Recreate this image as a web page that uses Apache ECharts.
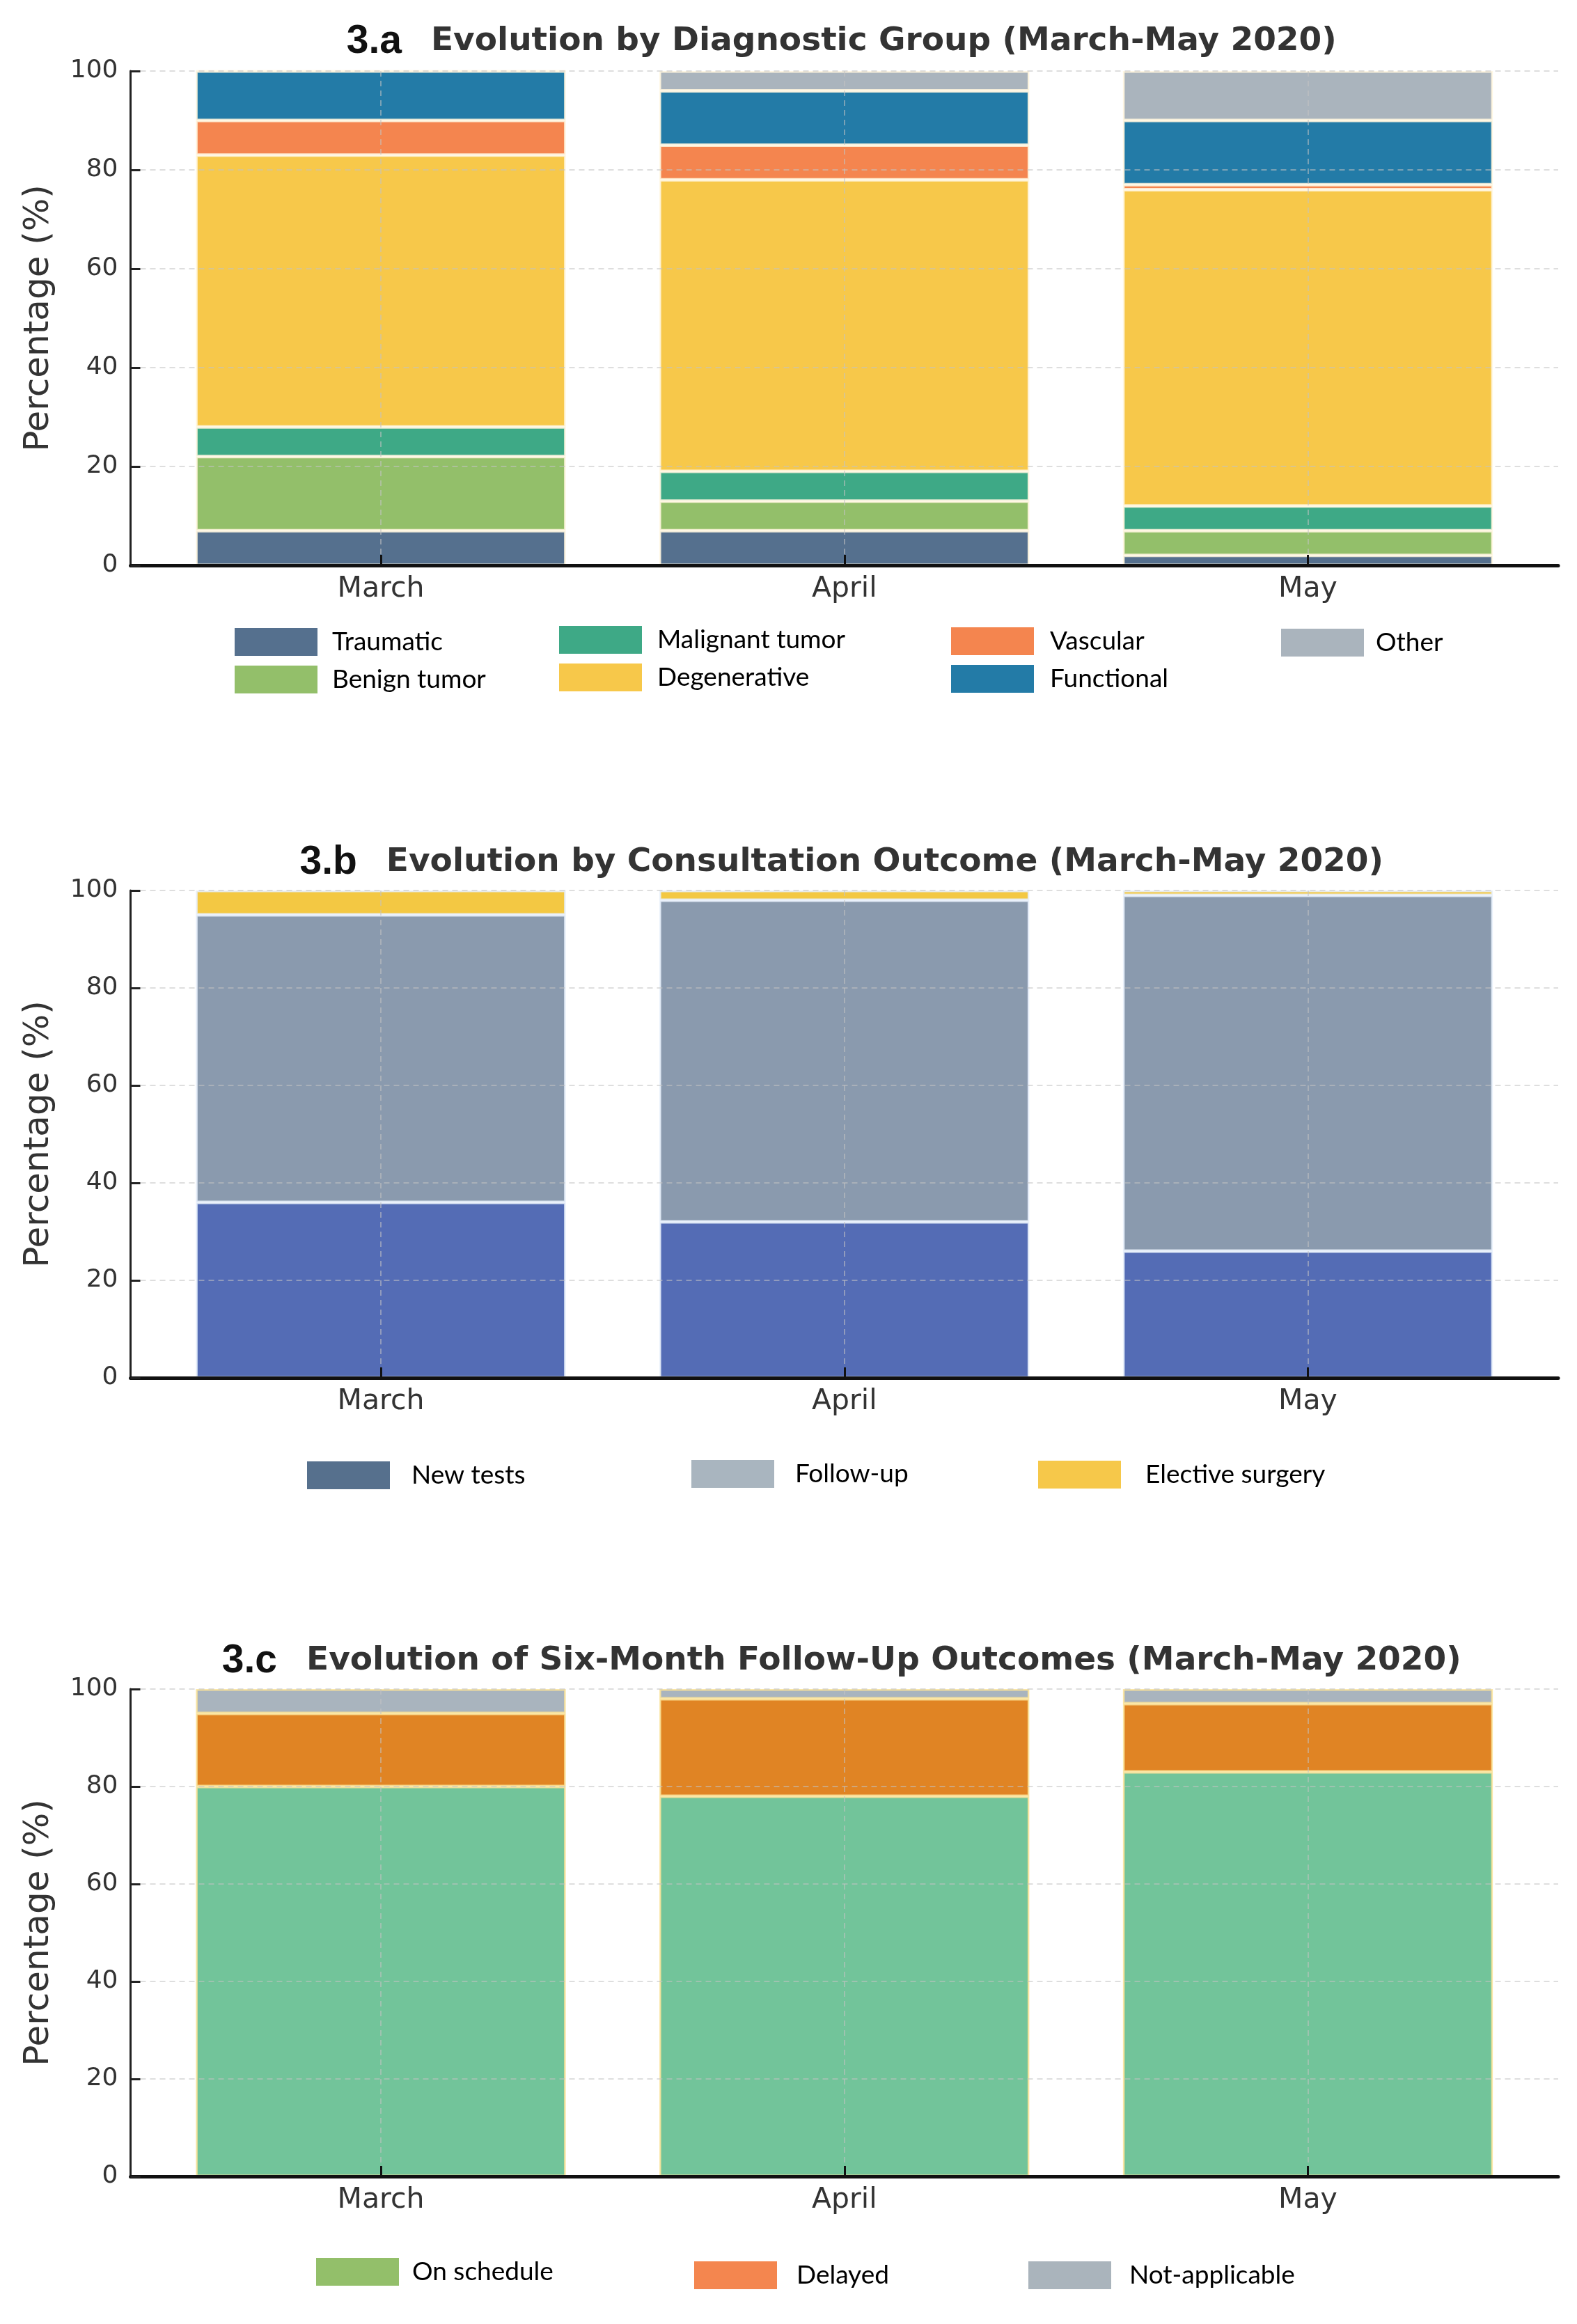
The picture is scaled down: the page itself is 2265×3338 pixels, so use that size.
<!DOCTYPE html>
<html>
<head>
<meta charset="utf-8">
<script src="https://cdn.jsdelivr.net/npm/echarts@6/dist/echarts.min.js"></script>
<style>
html,body{margin:0;padding:0;background:#ffffff;}
#chart{width:2265px;height:3338px;}
</style>
</head>
<body>
<div id="chart"></div>
<script>
// ---------------- data ----------------
const months = ['March', 'April', 'May'];

// 3.a diagnostic group (%)
const diagnosticGroups = ['Traumatic', 'Benign tumor', 'Malignant tumor', 'Degenerative', 'Vascular', 'Functional', 'Other'];
const traumatic      = [7, 7, 2];
const benignTumor    = [15, 6, 5];
const malignantTumor = [6, 6, 5];
const degenerative   = [55, 59, 64];
const vascular       = [7, 7, 1];
const functional     = [10, 11, 13];
const other          = [0, 4, 10];

// 3.b consultation outcome (%)
const outcomeGroups   = ['New tests', 'Follow-up', 'Elective surgery'];
const newTests        = [36, 32, 26];
const followUp        = [59, 66, 73];
const electiveSurgery = [5, 2, 1];

// 3.c six-month follow-up outcome (%)
const followGroups  = ['On schedule', 'Delayed', 'Not-applicable'];
const onSchedule    = [80, 78, 83];
const delayed       = [15, 20, 14];
const notApplicable = [5, 2, 3];

const panelLabels = ['3.a', '3.b', '3.c'];
const panelTitles = [
  'Evolution by Diagnostic Group (March-May 2020)',
  'Evolution by Consultation Outcome (March-May 2020)',
  'Evolution of Six-Month Follow-Up Outcomes (March-May 2020)'
];
const yAxisName = 'Percentage (%)';

// ---------------- styling / layout ----------------
const catIdx = months.map((m, i) => i);
const BAND = 665.75;               // pixel width of one month slot
const MARGIN = 0.54;               // axis padding, in slots, beyond the centre of the end bars
const FRAME_LEFT = 187.5;
const FRAME_W = BAND * (months.length - 1 + 2 * MARGIN);
const BAR_LEFT = FRAME_LEFT + (MARGIN - 0.5) * BAND;
const BAR_W = BAND * months.length;
const panelBox = [
  { top: 102,  height: 710 },
  { top: 1279, height: 700 },
  { top: 2426, height: 700 }
];
const titleTops = [30, 1209, 2356];
const gridColor = 'rgba(195,195,195,0.55)';

const panelA = {
  values: [traumatic, benignTumor, malignantTumor, degenerative, vascular, functional, other],
  names: diagnosticGroups,
  barColors: ['#55708e', '#93bf6a', '#3ea986', '#f7c84a', '#f4854f', '#237ba7', '#aab4bd'],
  legendColors: null,
  border: 'rgba(255,246,222,0.85)'
};
const panelB = {
  values: [newTests, followUp, electiveSurgery],
  names: outcomeGroups,
  barColors: ['#546cb5', '#8a9aae', '#f3c843'],
  legendColors: ['#56708d', '#a9b5bf', '#f6c84a'],
  border: 'rgba(230,238,250,0.85)'
};
const panelC = {
  values: [onSchedule, delayed, notApplicable],
  names: followGroups,
  barColors: ['#72c49a', '#e08424', '#a9b4be'],
  legendColors: ['#93bf6a', '#f4864f', '#aab4bc'],
  border: 'rgba(250,226,150,0.85)'
};
const panels = [panelA, panelB, panelC];

// grids 0..2 : bars (category axes, hidden) ; grids 3..5 : visible frame axes
const grids = [];
panelBox.forEach(b => grids.push({ left: BAR_LEFT, top: b.top, width: BAR_W, height: b.height }));
panelBox.forEach(b => grids.push({ left: FRAME_LEFT, top: b.top, width: FRAME_W, height: b.height }));

const xAxes = [];
const yAxes = [];
panelBox.forEach((b, g) => {
  xAxes.push({ type: 'category', gridIndex: g, data: months, show: false, boundaryGap: true });
  yAxes.push({ type: 'value', gridIndex: g, min: 0, max: 100, show: false });
});
panelBox.forEach((b, g) => {
  xAxes.push({
    type: 'value',
    gridIndex: 3 + g,
    min: -MARGIN,
    max: months.length - 1 + MARGIN,
    z: 5,
    axisLine: { show: true, onZero: false, lineStyle: { color: '#111', width: 5 } },
    axisTick: { show: true, inside: true, length: 15, customValues: catIdx, lineStyle: { color: '#111', width: 3 } },
    axisLabel: {
      customValues: catIdx,
      formatter: v => months[Math.round(v)],
      margin: 14, fontSize: 41, color: '#333', fontFamily: 'DejaVu Sans'
    },
    splitLine: { show: true, lineStyle: { color: gridColor, width: 2, type: [8, 6] } }
  });
  yAxes.push({
    type: 'value',
    gridIndex: 3 + g,
    min: 0,
    max: 100,
    interval: 20,
    z: 5,
    axisLine: { show: true, onZero: false, lineStyle: { color: '#222', width: 3 } },
    axisTick: { show: true, inside: true, length: 14, lineStyle: { color: '#222', width: 3 } },
    axisLabel: { margin: 18, fontSize: 36, color: '#333', fontFamily: 'DejaVu Sans' },
    splitLine: { show: true, lineStyle: { color: gridColor, width: 2, type: [8, 6] } }
  });
});

const series = [];
panels.forEach((p, g) => {
  p.names.forEach((name, k) => {
    series.push({
      name: name,
      type: 'bar',
      xAxisIndex: g,
      yAxisIndex: g,
      stack: 'panel' + g,
      barWidth: '79.8%',
      data: p.values[k],
      itemStyle: { color: p.barColors[k], borderColor: p.border, borderWidth: 2.5 },
      emphasis: { disabled: true },
      z: 2
    });
  });
});

const titles = panelLabels.map((lab, g) => ({
  left: FRAME_LEFT + FRAME_W / 2 - 4,
  top: titleTops[g],
  textAlign: 'center',
  padding: 0,
  text: '{n|' + lab + '}{t|' + panelTitles[g] + '}',
  textStyle: {
    rich: {
      n: { fontFamily: 'Liberation Sans', fontWeight: 'bold', fontSize: 57, color: '#111', padding: [0, 42, 0, 0], lineHeight: 60 },
      t: { fontFamily: 'DejaVu Sans', fontWeight: 'bold', fontSize: 47, color: '#333', lineHeight: 60 }
    }
  }
}));

function legendItem(p, k) {
  const item = { name: p.names[k] };
  if (p.legendColors) item.itemStyle = { color: p.legendColors[k], borderWidth: 0 };
  return item;
}
function makeLegend(p, ks, left, top, textPad) {
  return {
    orient: 'vertical',
    left: left,
    top: top,
    padding: 0,
    itemWidth: 119,
    itemHeight: 40,
    itemGap: 14,
    icon: 'rect',
    selectedMode: false,
    data: ks.map(k => legendItem(p, k)),
    itemStyle: { borderWidth: 0 },
    textStyle: { fontFamily: 'Lato', fontSize: 37, lineHeight: 38, color: '#000', padding: [0, 0, 0, textPad] }
  };
}

const legends = [
  makeLegend(panelA, [0, 1], 337, 902, 16),
  makeLegend(panelA, [2, 3], 803, 899, 17),
  makeLegend(panelA, [4, 5], 1366, 901, 18),
  makeLegend(panelA, [6], 1840, 903, 12),
  makeLegend(panelB, [0], 441, 2099, 26),
  makeLegend(panelB, [1], 993, 2097, 25),
  makeLegend(panelB, [2], 1491, 2098, 30),
  makeLegend(panelC, [0], 454, 3243, 14),
  makeLegend(panelC, [1], 997, 3248, 23),
  makeLegend(panelC, [2], 1477, 3248, 21)
];

const graphics = panelBox.map(b => ({
  type: 'text',
  x: 56,
  y: b.top + b.height / 2,
  rotation: Math.PI / 2,
  style: {
    text: yAxisName,
    fontFamily: 'DejaVu Sans',
    fontSize: 50,
    fill: '#333',
    align: 'center',
    verticalAlign: 'middle'
  }
}));

const option = {
  backgroundColor: '#ffffff',
  animation: false,
  title: titles,
  grid: grids,
  xAxis: xAxes,
  yAxis: yAxes,
  legend: legends,
  graphic: graphics,
  series: series
};

const chart = echarts.init(document.getElementById('chart'), null, { renderer: 'canvas' });
chart.setOption(option);
</script>
</body>
</html>
